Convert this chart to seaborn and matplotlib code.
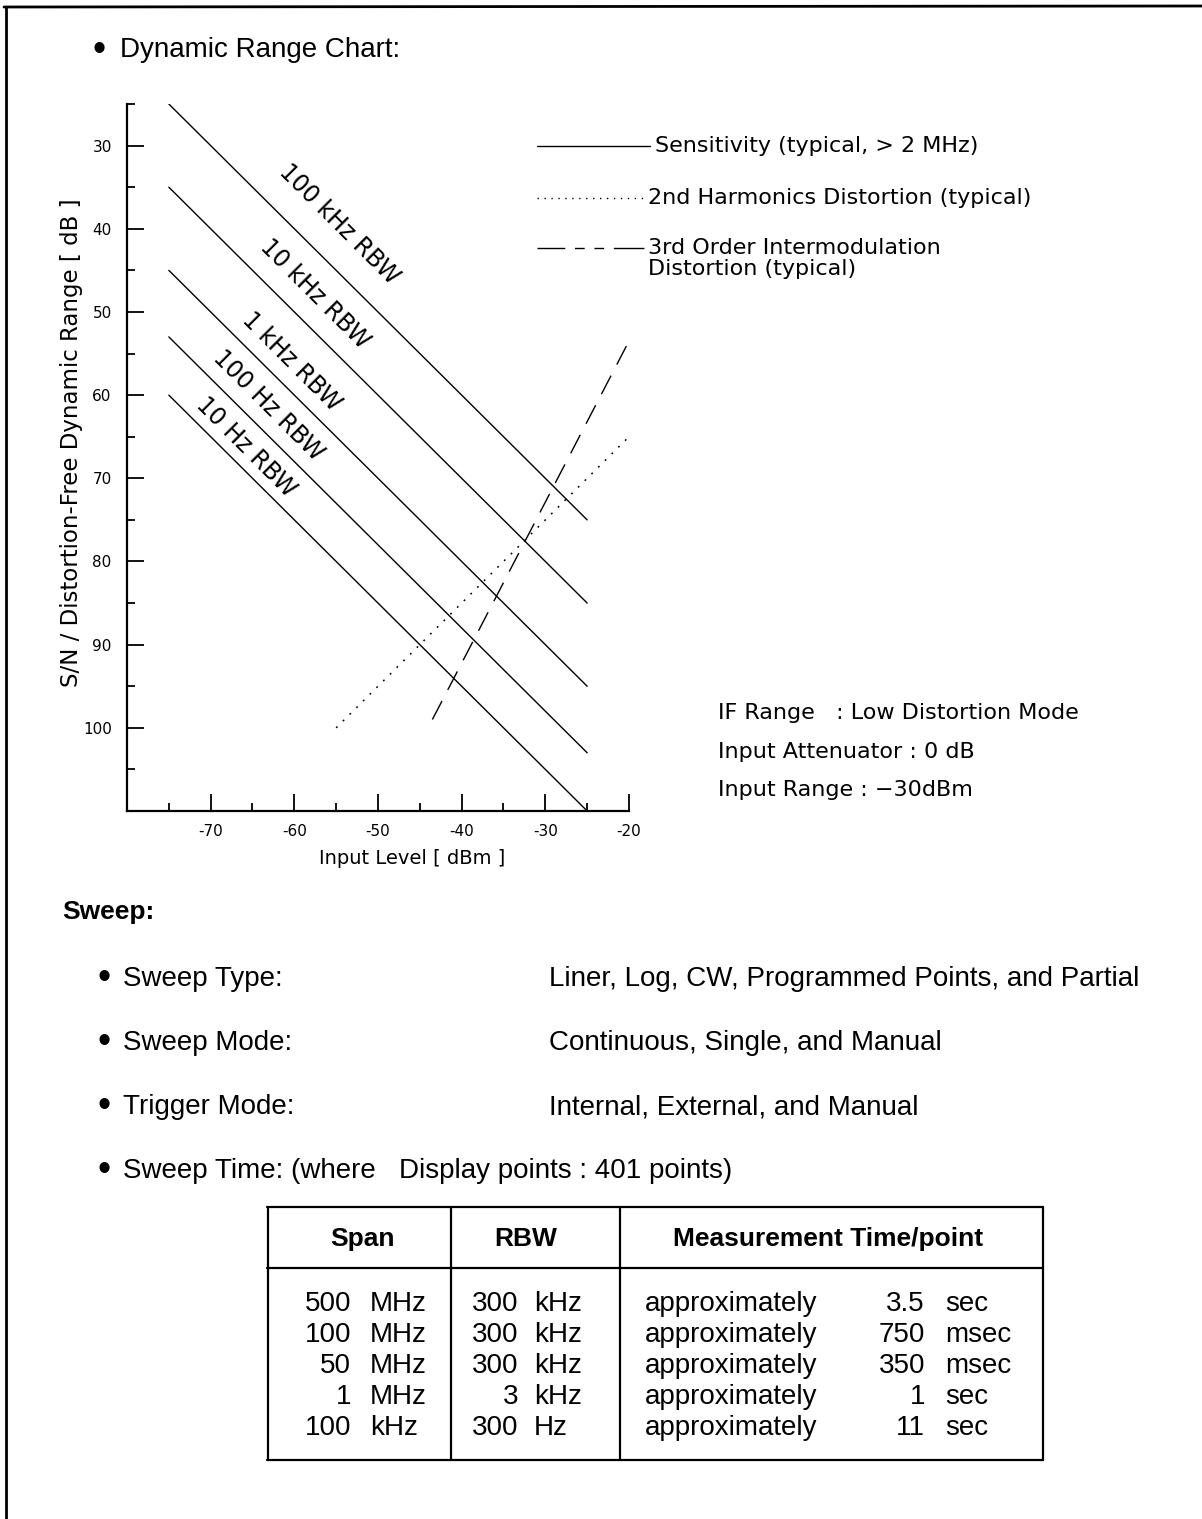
import numpy as np
import pandas as pd
import matplotlib
matplotlib.use("Agg")
import matplotlib.pyplot as plt
from matplotlib.lines import Line2D
import seaborn as sns

# ---------------- data ----------------
input_level_ends = [-75, -25]                       # dBm, sensitivity lines
rbw_labels = ["100 kHz RBW", "10 kHz RBW", "1 kHz RBW", "100 Hz RBW", "10 Hz RBW"]
sens_start = [25, 35, 45, 53, 60]                   # dB at -75 dBm
sens_end = [75, 85, 95, 103, 110]                   # dB at -25 dBm
harm2_x = [-55, -20]
harm2_y = [100, 65]
im3_x = [-43.5, -20]
im3_y = [99, 53.5]

x_major = [-70, -60, -50, -40, -30, -20]
x_minor = [-75, -65, -55, -45, -35, -25]
y_major = [30, 40, 50, 60, 70, 80, 90, 100]
y_minor = [25, 35, 45, 55, 65, 75, 85, 95, 105]

legend_labels = ["Sensitivity (typical, > 2 MHz)",
                 "2nd Harmonics Distortion (typical)",
                 "3rd Order Intermodulation\nDistortion (typical)"]
conditions = ["IF Range   : Low Distortion Mode",
              "Input Attenuator : 0 dB",
              "Input Range : \u221230dBm"]

sweep_items = ["Sweep Type:", "Sweep Mode:", "Trigger Mode:"]
sweep_values = ["Liner, Log, CW, Programmed Points, and Partial",
                "Continuous, Single, and Manual",
                "Internal, External, and Manual"]

table_header = ["Span", "RBW", "Measurement Time/point"]
span_num = ["500", "100", "50", "1", "100"]
span_unit = ["MHz", "MHz", "MHz", "MHz", "kHz"]
rbw_num = ["300", "300", "300", "3", "300"]
rbw_unit = ["kHz", "kHz", "kHz", "kHz", "Hz"]
time_num = ["3.5", "750", "350", "1", "11"]
time_unit = ["sec", "msec", "msec", "sec", "sec"]

# ---------------- figure ----------------
sns.set_theme(style="ticks")
plt.rcParams["font.family"] = ["DejaVu Sans"]
plt.rcParams["text.color"] = "black"
plt.rcParams["axes.labelcolor"] = "black"
plt.rcParams["xtick.color"] = "black"
plt.rcParams["ytick.color"] = "black"

W, H = 1202, 1519
fig = plt.figure(figsize=(W / 100, H / 100), dpi=100)
fig.patch.set_facecolor("white")

def fx(px):
    return px / W

def fy(py):
    return 1 - py / H

ax = fig.add_axes([fx(127), fy(811), (629 - 127) / W, (811 - 104) / H])
ax.set_facecolor("white")

# sensitivity lines
for lab, s0, s1 in zip(rbw_labels, sens_start, sens_end):
    df = pd.DataFrame({"x": input_level_ends, "y": [s0, s1]})
    sns.lineplot(data=df, x="x", y="y", ax=ax, color="black", lw=1.0,
                 sort=False, estimator=None)
# 2nd harmonic (dotted)
df2 = pd.DataFrame({"x": harm2_x, "y": harm2_y})
sns.lineplot(data=df2, x="x", y="y", ax=ax, color="black", lw=1.1,
             sort=False, estimator=None, dashes=False)
ax.lines[-1].set_dashes((1.2, 5.0))
# 3rd order IM (dashed)
df3 = pd.DataFrame({"x": im3_x, "y": im3_y})
sns.lineplot(data=df3, x="x", y="y", ax=ax, color="black", lw=1.0,
             sort=False, estimator=None, dashes=False)
ax.lines[-1].set_dashes((15, 9))

ax.set_xlim(-80, -20)
ax.set_ylim(110, 25)

ax.set_xticks(x_major)
ax.set_xticks(x_minor, minor=True)
ax.set_yticks(y_major)
ax.set_yticks(y_minor, minor=True)
ax.set_xticklabels([str(v) for v in x_major])
ax.tick_params(axis="both", which="major", direction="in", length=12,
               width=1.3, color="black", labelsize=11, labelcolor="black")
ax.tick_params(axis="both", which="minor", direction="in", length=6,
               width=1.3, color="black")
ax.tick_params(axis="y", which="major", pad=11)
ax.tick_params(axis="x", which="major", pad=9)

for side in ["top", "right"]:
    ax.spines[side].set_visible(False)
for side in ["left", "bottom"]:
    ax.spines[side].set_color("black")
    ax.spines[side].set_linewidth(1.6)

ax.set_xlabel("Input Level [ dBm ]", fontsize=14, color="black")
ax.set_ylabel("S/N / Distortion-Free Dynamic Range [ dB ]", fontsize=16.5, color="black")
ax.xaxis.set_label_coords((412 - 127) / 502, -(849 - 811) / 707)
ax.yaxis.set_label_coords((83 - 127) / 502, 1 - (443 - 104) / 707)

# RBW labels along lines
lab_x = [-54.6, -57.6, -60.3, -63.1, -65.8]
lab_y = [39.5, 47.8, 56.0, 61.2, 66.3]
for lab, lx, ly in zip(rbw_labels, lab_x, lab_y):
    ax.text(lx, ly, lab, rotation=-45, rotation_mode="anchor", ha="center",
            va="center", fontsize=17, color="black")

# legend (drawn in figure coords)
fig.add_artist(Line2D([fx(537), fx(650)], [fy(146), fy(146)], color="black", lw=1.0))
l2 = Line2D([fx(537), fx(646)], [fy(198), fy(198)], color="black", lw=1.0)
l2.set_dashes((1.0, 4.0))
fig.add_artist(l2)
l3 = Line2D([fx(537), fx(646)], [fy(248), fy(248)], color="black", lw=1.0)
l3.set_dashes((20, 7, 7, 7, 7, 7, 22, 200))
fig.add_artist(l3)
fig.text(fx(655), fy(146), legend_labels[0], fontsize=16, va="center", ha="left")
fig.text(fx(648), fy(198), legend_labels[1], fontsize=16, va="center", ha="left")
fig.text(fx(648), fy(238), legend_labels[2], fontsize=16, va="top", ha="left",
         linespacing=1.08)

# conditions
for i, t in enumerate(conditions):
    fig.text(fx(718), fy(713 + 38.5 * i), t, fontsize=16, va="center", ha="left")

# ---------------- text section ----------------
HF = ["Liberation Sans", "DejaVu Sans"]
fig.text(fx(99), fy(51), "\u2022", fontsize=27, family=HF, va="center", ha="center")
fig.text(fx(120), fy(50), "Dynamic Range Chart:", fontsize=20, family=HF, va="center", ha="left")

fig.text(fx(62), fy(912), "Sweep:", fontsize=19, family=HF, weight="bold", va="center", ha="left")
ys = [979, 1043, 1107]
for y, item, val in zip(ys, sweep_items, sweep_values):
    fig.text(fx(104), fy(y), "\u2022", fontsize=27, family=HF, va="center", ha="center")
    fig.text(fx(123), fy(y), item, fontsize=20, family=HF, va="center", ha="left")
    fig.text(fx(549), fy(y), val, fontsize=20, family=HF, va="center", ha="left")
fig.text(fx(104), fy(1171), "\u2022", fontsize=27, family=HF, va="center", ha="center")
fig.text(fx(123), fy(1171), "Sweep Time: (where   Display points : 401 points)",
         fontsize=20, family=HF, va="center", ha="left")

# table
tlw = 1.6
def hline(x0, x1, y):
    fig.add_artist(Line2D([fx(x0), fx(x1)], [fy(y), fy(y)], color="black", lw=tlw))
def vline(x, y0, y1):
    fig.add_artist(Line2D([fx(x), fx(x)], [fy(y0), fy(y1)], color="black", lw=tlw))

hline(267, 1043, 1207)
hline(267, 1043, 1268)
hline(267, 1043, 1460)
for x in [268, 451, 620, 1043]:
    vline(x, 1207, 1460)

for cx, h in zip([362, 526, 828], table_header):
    fig.text(fx(cx), fy(1246), h, fontsize=19, family=HF, weight="bold",
             ha="center", va="baseline")

for i in range(5):
    yb = 1311 + 31 * i
    fig.text(fx(351), fy(yb), span_num[i], fontsize=20, family=HF, ha="right", va="baseline")
    fig.text(fx(370), fy(yb), span_unit[i], fontsize=20, family=HF, ha="left", va="baseline")
    fig.text(fx(518), fy(yb), rbw_num[i], fontsize=20, family=HF, ha="right", va="baseline")
    fig.text(fx(534), fy(yb), rbw_unit[i], fontsize=20, family=HF, ha="left", va="baseline")
    fig.text(fx(645), fy(yb), "approximately", fontsize=20, family=HF, ha="left", va="baseline")
    fig.text(fx(925), fy(yb), time_num[i], fontsize=20, family=HF, ha="right", va="baseline")
    fig.text(fx(945), fy(yb), time_unit[i], fontsize=20, family=HF, ha="left", va="baseline")

# page border (top and left)
fig.add_artist(Line2D([fx(4), fx(1202)], [fy(7), fy(6)], color="black", lw=2.0))
fig.add_artist(Line2D([fx(6), fx(6)], [fy(7), fy(1519)], color="black", lw=2.0))

fig.savefig("out.png", dpi=100, facecolor="white")
